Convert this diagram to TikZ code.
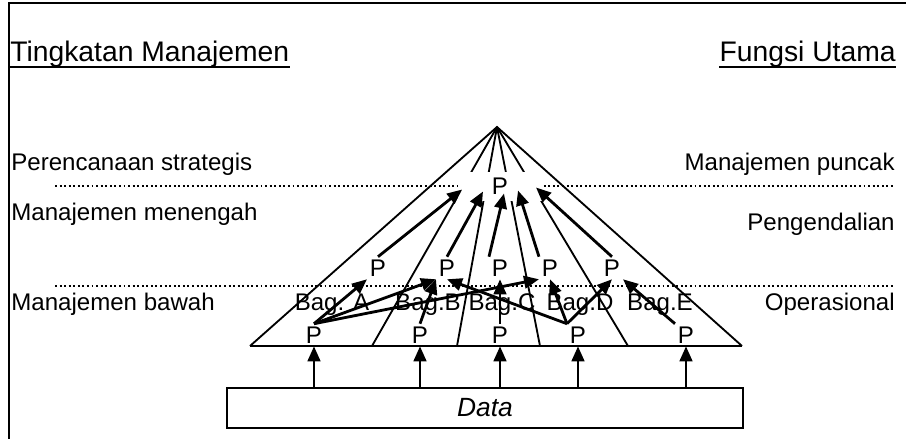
\documentclass[tikz,border=0pt]{standalone}
\usepackage{fontspec}
\setmainfont{Liberation Sans}
\usetikzlibrary{arrows.meta, positioning}

\begin{document}
\begin{tikzpicture}[x=0.02cm, y=-0.02cm,
  every node/.style={font=\fontsize{13.7}{16}\selectfont},
  head/.style={font=\fontsize{16.1}{19}\selectfont, inner sep=0pt},
  lbl/.style={inner sep=0pt},
  proc/.style={inner sep=1.5pt},
  edge/.style={line width=1.05pt},
  arr/.style={line width=1.6pt, -{Triangle[length=0.3cm, width=0.25cm]}},
  levelline/.style={line width=1.1pt, dash pattern=on 1.1pt off 1.5pt}]
\useasboundingbox (0,0) rectangle (906,439);

% Frame, top and left side only
\draw[line width=1.4pt] (9,439) -- (9,3) -- (906,3);

% Column headings
\node[head, anchor=base west] (tingkat) at (10,62) {Tingkatan Manajemen};
\node[head, anchor=base east] (fungsi) at (896,62) {Fungsi Utama};
\draw[line width=1.1pt] ([yshift=-3pt]tingkat.base west) -- ([yshift=-3pt]tingkat.base east);
\draw[line width=1.1pt] ([yshift=-3pt]fungsi.base west) -- ([yshift=-3pt]fungsi.base east);

% Level borders
\draw[levelline] (55,186) -- (895,186);
\draw[levelline] (55,286) -- (895,286);

% Pyramid with its five parts
\coordinate (apex) at (497,127);
\coordinate (bl) at (250,346);
\coordinate (br) at (742,346);
\draw[edge] (bl) -- (apex) -- (br);
\draw[line width=1.4pt] (bl) -- (br);
\foreach \x [count=\i] in {372,457,540,628} {
  \coordinate (cut\i) at (\x,346);
  \draw[edge] (apex) -- (cut\i);
}

% Processing at the top
\node[fill=white, minimum width=1.7cm, minimum height=0.6cm, inner sep=0pt] (top) at (500,186.5) {P};

% Processing in the middle
\node[proc] (mA) at (378,268) {P};
\node[proc] (mB) at (447,268) {P};
\node[proc] (mC) at (500,268) {P};
\node[proc] (mD) at (550,268) {P};
\node[proc] (mE) at (612,268) {P};

% Processing at the bottom
\node[proc] (bA) at (314,335) {P};
\node[proc] (bB) at (420,335) {P};
\node[proc] (bC) at (500,335) {P};
\node[proc] (bD) at (578,335) {P};
\node[proc] (bE) at (686,335) {P};

% Departments
\node[lbl, anchor=base] (bagA) at (332,310) {Bag. A};
\node[lbl, anchor=base] (bagB) at (428,310) {Bag.B};
\node[lbl, anchor=base] (bagC) at (502,310) {Bag.C};
\node[lbl, anchor=base] (bagD) at (580,310) {Bag.D};
\node[lbl, anchor=base] (bagE) at (660,310) {Bag.E};

% Data store
\node[draw, line width=1.2pt, minimum width=10.32cm, minimum height=0.8cm, inner sep=0pt,
  font=\fontsize{15}{18}\selectfont\itshape] (data) at (485,408) {Data};
\foreach \n in {bA,bB,bC,bD,bE}
  \draw[arr] (data.north -| \n) -- (\n.south);

% Bottom to middle
\draw[arr] (bA.north) -- (mA.south west);
\draw[arr] (bA.north) -- (mB.south west);
\draw[arr] (bA.north) -- (mD.south west);
\draw[arr] (bB.north) -- (mB.south west);
\draw[arr] (bC.north) -- (mC.south);
\draw[arr] (bD.north west) -- (mB.south);
\draw[arr] (bD.north west) -- (mD.south);
\draw[arr] (bD.north west) -- (mE.south);
\draw[arr] (bE.north west) -- (mE.south east);

% Middle to top
\draw[arr] (mA.north) -- ([shift={(5,3)}]top.west);
\draw[arr] (mB.north) -- ([shift={(-17,5)}]top.center);
\draw[arr] (mC.north west) -- ([shift={(4,7)}]top.center);
\draw[arr] (mD.north west) -- ([shift={(18,4)}]top.center);
\draw[arr] (mE.north) -- ([shift={(36,1)}]top.center);

% Levels and main functions
\node[lbl, anchor=base west] (strategis) at (11,171) {Perencanaan strategis};
\node[lbl, anchor=base west] (menengah) at (11,220) {Manajemen menengah};
\node[lbl, anchor=base west] (bawah) at (11,310) {Manajemen bawah};
\node[lbl, anchor=base east] (puncak) at (895,171) {Manajemen puncak};
\node[lbl, anchor=base east] (kendali) at (895,230) {Pengendalian};
\node[lbl, anchor=base east] (operasi) at (895,310) {Operasional};
\end{tikzpicture}
\end{document}
